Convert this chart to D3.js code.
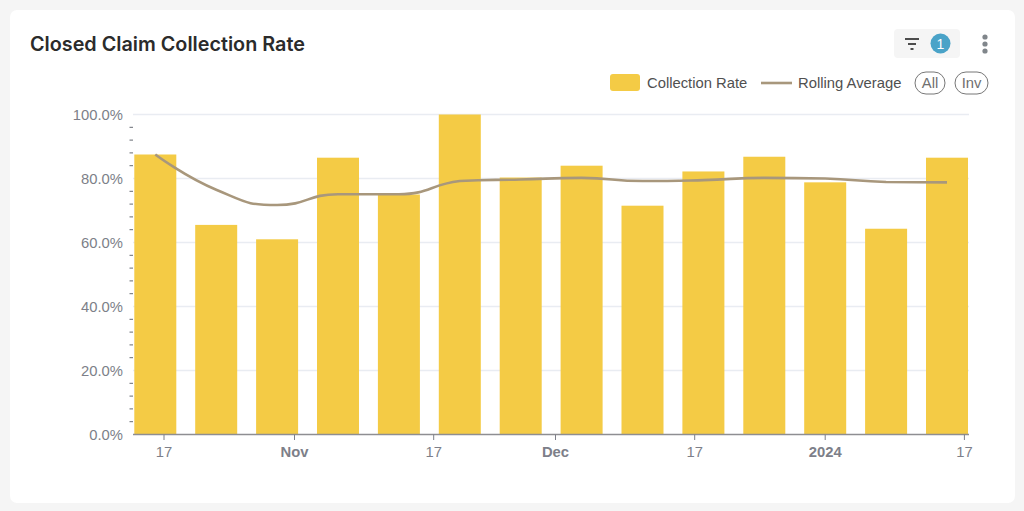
<!DOCTYPE html>
<html><head><meta charset="utf-8">
<script src="https://cdn.jsdelivr.net/npm/d3@7"></script>
<style>
html,body{margin:0;padding:0;background:#f5f5f5;width:1024px;height:511px;overflow:hidden}
svg{display:block}
text{font-family:"Liberation Sans",Arial,sans-serif}
</style></head><body>
<svg id="c" width="1024" height="511"></svg>
<script>
const title = "Closed Claim Collection Rate";
const weeks = ["2023-10-16","2023-10-23","2023-10-30","2023-11-06","2023-11-13","2023-11-20","2023-11-27","2023-12-04","2023-12-11","2023-12-18","2023-12-25","2024-01-01","2024-01-08","2024-01-15"];
const collectionRate = [87.5,65.5,61,86.5,75,100,80.3,84,71.5,82.2,86.8,78.8,64.3,86.5];
const rollingAverage = [87.5,76.5,71.7,75.1,75.1,79.2,79.7,80.2,79.2,79.5,80.2,80,78.9,78.8];
const yTicks = [0,20,40,60,80,100];
const xTicks = [["2023-10-17","17",false],["2023-11-01","Nov",true],["2023-11-17","17",false],["2023-12-01","Dec",true],["2023-12-17","17",false],["2024-01-01","2024",true],["2024-01-17","17",false]];
const legendBar = "Collection Rate", legendLine = "Rolling Average", pills = ["All","Inv"];
const barColor = "#f4cb45", lineColor = "#a8977c";

const parse = d3.utcParse("%Y-%m-%d");
const svg = d3.select("#c");
const L=133,R=969,T=114.5,B=434.5, pxPerDay=60.9/7;
svg.append("rect").attr("x",10).attr("y",10).attr("width",1005).attr("height",493).attr("rx",7).attr("fill","#fff");

const t0 = parse("2023-10-17");
const x = d3.scaleUtc()
  .domain([new Date(+t0-(164-L)/pxPerDay*864e5), new Date(+t0+(R-164)/pxPerDay*864e5)])
  .range([L,R]);
const y = d3.scaleLinear().domain([0,100]).range([B,T]);

// title
svg.append("text").attr("x",30).attr("y",51).attr("font-size",19.8)
  .attr("fill","#2b2b2b").style("font-family","Inter").style("font-weight",600).text(title);

// grid
svg.append("g").selectAll("line").data(yTicks.filter(d=>d>0)).join("line")
  .attr("x1",L).attr("x2",R).attr("y1",d=>y(d)).attr("y2",d=>y(d))
  .attr("stroke","#e9ecf2").attr("stroke-width",1.3);

// y labels + minor ticks
svg.append("g").selectAll("text").data(yTicks).join("text")
  .attr("x",123).attr("y",d=>y(d)+5).attr("text-anchor","end")
  .attr("font-size",14.8).attr("fill","#7d7f89").text(d=>d.toFixed(1)+"%");
const minors = d3.range(0,100,4).filter(d=>d%20!==0);
svg.append("g").selectAll("line").data(minors).join("line")
  .attr("x1",129.5).attr("x2",133).attr("y1",d=>y(d)).attr("y2",d=>y(d))
  .attr("stroke","#666a72").attr("stroke-width",1);

// bars
svg.append("g").selectAll("rect").data(weeks).join("rect")
  .attr("x",d=>x(parse(d))-21).attr("width",42)
  .attr("y",(d,i)=>y(collectionRate[i])).attr("height",(d,i)=>B-y(collectionRate[i]))
  .attr("fill",barColor);

// x axis
svg.append("line").attr("x1",L).attr("x2",R).attr("y1",B).attr("y2",B).attr("stroke","#8e8e92").attr("stroke-width",1.6);
const xg = svg.append("g").selectAll("g").data(xTicks).join("g");
xg.append("line").attr("x1",d=>x(parse(d[0]))).attr("x2",d=>x(parse(d[0]))).attr("y1",B).attr("y2",B+5.5)
  .attr("stroke","#7d7f89").attr("stroke-width",1);
xg.append("text").attr("x",d=>x(parse(d[0]))).attr("y",456.5).attr("text-anchor","middle")
  .attr("font-size",14.8).attr("font-weight",d=>d[2]?700:400).attr("fill","#7d7f89").text(d=>d[1]);

// rolling line: bezier curve with wide, flat handles at turning points, free ends
function wideCurve(ctx){
  let pts;
  return {
    areaStart(){},areaEnd(){},
    lineStart(){pts=[];},
    point(a,b){pts.push([+a,+b]);},
    lineEnd(){
      const n=pts.length, m=pts.map((p,i)=>{
        if(i===0||i===n-1) return 0;
        const a=pts[i][1]-pts[i-1][1], b=pts[i+1][1]-pts[i][1];
        return a*b<=0?0:(pts[i+1][1]-pts[i-1][1])/(pts[i+1][0]-pts[i-1][0]);
      });
      ctx.moveTo(pts[0][0],pts[0][1]);
      for(let i=0;i<n-1;i++){
        const p=pts[i],q=pts[i+1],h=(q[0]-p[0])*0.5,lo=Math.min(p[1],q[1]),hi=Math.max(p[1],q[1]);
        const c1=Math.max(lo,Math.min(hi,p[1]+m[i]*h)), c2=Math.max(lo,Math.min(hi,q[1]-m[i+1]*h));
        const cx1=i===0?p[0]:p[0]+h, cy1=i===0?p[1]:c1;
        const cx2=i===n-2?q[0]:q[0]-h, cy2=i===n-2?q[1]:c2;
        ctx.bezierCurveTo(cx1,cy1,cx2,cy2,q[0],q[1]);
      }
    }
  };
}
const line = d3.line().x((d,i)=>x(parse(weeks[i]))).y(d=>y(d)).curve(wideCurve);
svg.append("path").attr("d",line(rollingAverage)).attr("fill","none").attr("stroke",lineColor).attr("stroke-width",2.6);

// legend
svg.append("rect").attr("x",610).attr("y",74).attr("width",30).attr("height",17).attr("rx",3).attr("fill",barColor);
svg.append("text").attr("x",647).attr("y",88).attr("font-size",14.8).attr("fill","#505050").text(legendBar);
svg.append("line").attr("x1",761).attr("x2",792).attr("y1",83).attr("y2",83).attr("stroke",lineColor).attr("stroke-width",2.6);
svg.append("text").attr("x",798).attr("y",88).attr("font-size",14.8).attr("fill","#505050").text(legendLine);
const pillX=[[915,30],[955,33]];
pills.forEach((p,i)=>{
  svg.append("rect").attr("x",pillX[i][0]).attr("y",72).attr("width",pillX[i][1]).attr("height",22).attr("rx",11)
    .attr("fill","#fff").attr("stroke","#777").attr("stroke-width",1);
  svg.append("text").attr("x",pillX[i][0]+pillX[i][1]/2).attr("y",87.5).attr("text-anchor","middle")
    .attr("font-size",14.8).attr("fill","#707070").text(p);
});

// filter chip
svg.append("rect").attr("x",894).attr("y",29).attr("width",66).attr("height",29).attr("rx",4).attr("fill","#f5f5f5");
[[905,919,39],[908,916,44],[910.5,913.5,49]].forEach(a=>{
  svg.append("line").attr("x1",a[0]).attr("x2",a[1]).attr("y1",a[2]).attr("y2",a[2]).attr("stroke","#3a3a3a").attr("stroke-width",1.8);
});
svg.append("circle").attr("cx",940.5).attr("cy",43.5).attr("r",10).attr("fill","#4aa3c8");
svg.append("text").attr("x",940.5).attr("y",48.5).attr("text-anchor","middle").attr("font-size",14).attr("fill","#fff").text("1");
[37,44,51].forEach(cy=>svg.append("circle").attr("cx",985).attr("cy",cy).attr("r",2.6).attr("fill","#80868b"));
</script></body></html>
